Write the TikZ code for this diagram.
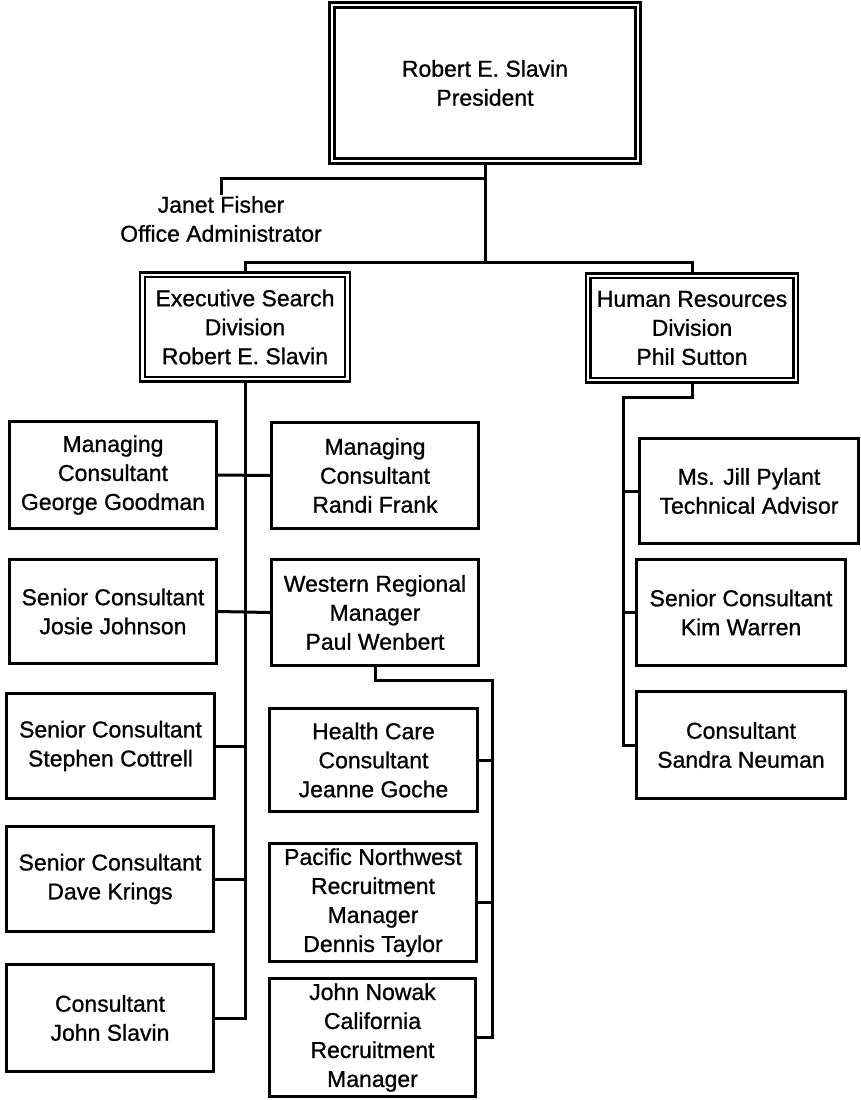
\documentclass[tikz,border=0pt]{standalone}
\usepackage{fontspec}
\setmainfont{Liberation Sans}[FakeBold=0.9]
\usetikzlibrary{backgrounds}
\begin{document}
\begin{tikzpicture}[x=1pt,y=-1pt,
  every node/.style={font=\fontsize{23}{29}\selectfont, align=center, inner sep=0pt},
  box/.style={draw, line width=3pt, fill=white},
  dbox/.style={draw, line width=2.4pt, double=white, double distance=2.4pt, fill=white},
  conn/.style={line width=3pt}]
\useasboundingbox (0,0) rectangle (861,1100);

% top level
\node[dbox, minimum width=306pt, minimum height=156pt] (pres) at (485,83) {Robert E. Slavin\\President};
\node[inner sep=1pt] (janet) at (221,219) {Janet Fisher\\Office Administrator};

% divisions
\node[dbox, minimum width=205pt, minimum height=104.5pt] (exec) at (245,327) {Executive Search\\Division\\Robert E. Slavin};
\node[dbox, minimum width=207.5pt, minimum height=104.5pt] (hr) at (692,328) {Human Resources\\Division\\Phil Sutton};

% executive search staff, left column
\node[box, minimum width=207pt, minimum height=107pt] (george) at (113,475) {Managing\\Consultant\\George Goodman};
\node[box, minimum width=207pt, minimum height=104pt] (josie) at (113,611.5) {Senior Consultant\\Josie Johnson};
\node[box, minimum width=208pt, minimum height=105pt] (stephen) at (110.5,746) {Senior Consultant\\Stephen Cottrell};
\node[box, minimum width=207pt, minimum height=105pt] (dave) at (110,879) {Senior Consultant\\Dave Krings};
\node[box, minimum width=207pt, minimum height=107pt] (jslavin) at (110,1018) {Consultant\\John Slavin};

% executive search staff, right column
\node[box, minimum width=207pt, minimum height=106pt] (randi) at (375,475.5) {Managing\\Consultant\\Randi Frank};
\node[box, minimum width=207pt, minimum height=106pt] (western) at (375,612.5) {Western Regional\\Manager\\Paul Wenbert};
\node[box, minimum width=208pt, minimum height=103pt] (health) at (373.5,760) {Health Care\\Consultant\\Jeanne Goche};
\node[box, minimum width=207pt, minimum height=118pt] (pacific) at (373,902.5) {Pacific Northwest\\Recruitment\\Manager\\Dennis Taylor};
\node[box, minimum width=206pt, minimum height=118pt] (nowak) at (372.5,1037.5) {John Nowak\\California\\Recruitment\\Manager};

% human resources staff
\node[box, minimum width=219pt, minimum height=105pt] (jill) at (749,491) {Ms. Jill Pylant\\Technical Advisor};
\node[box, minimum width=209pt, minimum height=106pt] (kim) at (741,612.5) {Senior Consultant\\Kim Warren};
\node[box, minimum width=209pt, minimum height=107pt] (sandra) at (741,745) {Consultant\\Sandra Neuman};

% bus points of the connector lines
\coordinate (divbus) at (485,262);
\coordinate (jbus) at (485,178);
\coordinate (wbus) at (492,680);
\coordinate (hbus) at (623,397);

\begin{scope}[on background layer]
  \draw[conn] (pres.south) -- (divbus);
  \draw[conn] (exec.north) |- (divbus) -| (hr.north);
  \draw[conn] (jbus) -| (janet.north);
  % executive search trunk
  \draw[conn] (exec.south) |- (jslavin.east);
  \draw[conn] (george.east) -- (randi.west);
  \draw[conn] (josie.east) -- (western.west);
  \draw[conn] (stephen.east) -- (stephen.east -| exec.south);
  \draw[conn] (dave.east) -- (dave.east -| exec.south);
  % western region
  \draw[conn] (western.south) |- (wbus) |- (nowak.east);
  \draw[conn] (health.east) -- (health.east -| wbus);
  \draw[conn] (pacific.east) -- (pacific.east -| wbus);
  % human resources
  \draw[conn] (hr.south) |- (hbus) |- (sandra.west);
  \draw[conn] (jill.west) -- (jill.west -| hbus);
  \draw[conn] (kim.west) -- (kim.west -| hbus);
\end{scope}
\end{tikzpicture}
\end{document}
